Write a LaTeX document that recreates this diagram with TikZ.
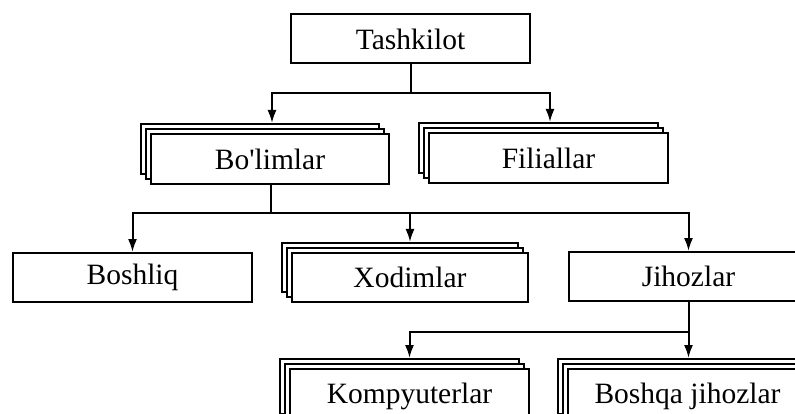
\documentclass[tikz,border=0pt]{standalone}
\usepackage{fontspec}
\setmainfont{Liberation Serif}
\usetikzlibrary{arrows.meta,shadows}
\tikzset{
  box/.style={draw=black, line width=2pt, fill=white, rectangle, inner sep=0pt,
    minimum width=239pt, minimum height=49pt,
    font=\fontsize{29.5}{33}\selectfont},
  stackbox/.style={box, double copy shadow={shadow xshift=-5pt, shadow yshift=5pt, line width=2pt}},
  link/.style={line width=2pt, draw=black},
  arr/.style={link, -{Latex[length=13pt,width=9pt]}}
}
\begin{document}
\begin{tikzpicture}[x=1pt,y=-1pt]
\useasboundingbox (0,0) rectangle (795,414);
\clip (0,0) rectangle (795,414);
\node[box] (tash) at (410.5,39) {Tashkilot};
\node[stackbox, minimum width=238pt, minimum height=50pt] (bol) at (270,159) {Bo\textquotesingle limlar};
\node[stackbox, minimum height=50pt] (fil) at (548.5,158) {Filiallar};
\node[box] (bosh) at (132.5,277.5) {Boshliq};
\node[stackbox, minimum width=236pt] (xod) at (410,277.5) {Xodimlar};
\node[box] (jih) at (688.5,276.5) {Jihozlar};
\node[stackbox, minimum height=55pt] (komp) at (409.5,396.5) {Kompyuterlar};
\node[stackbox, minimum height=55pt] (bj) at (687.5,396.5) {Boshqa jihozlar};
\coordinate (b1) at (410.5,93);
\coordinate (b2) at (271,213);
\coordinate (b3) at (688.5,332);
\draw[link] (tash.south) -- (b1);
\draw[arr] (b1) -| ([xshift=2pt,yshift=10pt]bol.north);
\draw[arr] (b1) -| ([xshift=1.5pt,yshift=10pt]fil.north);
\draw[link] ([xshift=1pt]bol.south) -- (b2);
\draw[arr] (b2) -| (bosh.north);
\draw[arr] (b2) -| ([yshift=10pt]xod.north);
\draw[arr] (b2) -| (jih.north);
\draw[link] (jih.south) -- (b3);
\draw[arr] (b3) -| ([yshift=10pt]komp.north);
\draw[arr] (b3) -- ([yshift=10pt]bj.north -| b3);
\end{tikzpicture}
\end{document}
